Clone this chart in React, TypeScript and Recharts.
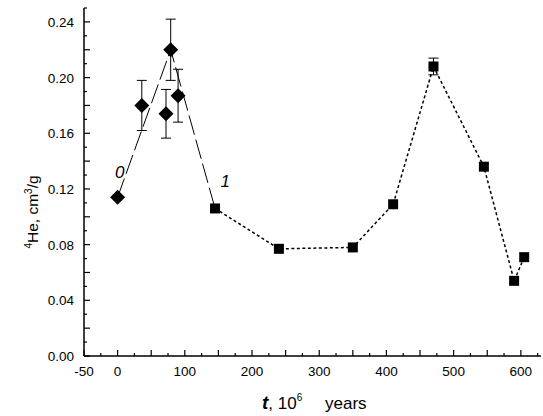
import React from "react";
import { ComposedChart, Scatter, XAxis, YAxis, ErrorBar, ReferenceDot } from "recharts";

// diamonds: series "0" with error bars
const diamondT = [0, 36, 72, 79, 90];
const diamondHe = [0.114, 0.18, 0.174, 0.22, 0.187];
const diamondErr = [null, 0.018, 0.0175, 0.022, 0.019];

// squares: series "1"
const squareT = [145, 240, 350, 410, 470, 545, 590, 605];
const squareHe = [0.106, 0.077, 0.078, 0.109, 0.208, 0.136, 0.054, 0.071];
const squareErr = [null, null, null, null, 0.006, null, null, null];

// long-dashed guide line through 0 -> peak -> first square
const guideT = [0, 79, 145];
const guideHe = [0.114, 0.22, 0.106];

// curve labels
const noteText = ["0", "1"];
const noteT = [3, 160];
const noteHe = [0.1325, 0.1255];

const xTicks = Array.from({ length: 28 }, (_, i) => -50 + i * 25);
const yTicks = Array.from({ length: 26 }, (_, i) => Math.round(i) / 100);

const FONT = "'Liberation Sans', Arial, sans-serif";

const diamonds = diamondT.map((t, i) => ({ t, he: diamondHe[i], err: diamondErr[i] }));
const squares = squareT.map((t, i) => ({ t, he: squareHe[i], err: squareErr[i] }));
const guide = guideT.map((t, i) => ({ t, he: guideHe[i] }));

const Diamond = (p: any) => {
  const { cx, cy } = p;
  const r = 7.5;
  return <polygon points={`${cx},${cy - r} ${cx + r},${cy} ${cx},${cy + r} ${cx - r},${cy}`} fill="#000" />;
};

const Square = (p: any) => {
  const { cx, cy } = p;
  return <rect x={cx - 5} y={cy - 5} width={10} height={10} fill="#000" />;
};

const NoShape = () => <g />;

const XTick = (p: any) => {
  const { x, y, payload } = p;
  const v = payload.value;
  const major = v % 50 === 0;
  const labelled = v === -50 || v % 100 === 0;
  return (
    <g>
      <line x1={x} x2={x} y1={y} y2={y - (major ? 6 : 3)} stroke="#000" strokeWidth={1.2} />
      {labelled && (
        <text x={x} y={y + 20} textAnchor="middle" fontSize={13.5} fontFamily={FONT} fill="#000">
          {v}
        </text>
      )}
    </g>
  );
};

const YTick = (p: any) => {
  const { x, y, payload } = p;
  const k = Math.round(payload.value * 100);
  const major = k % 2 === 0;
  const labelled = k % 4 === 0;
  return (
    <g>
      <line x1={x} x2={x + (major ? 6 : 3)} y1={y} y2={y} stroke="#000" strokeWidth={1.2} />
      {labelled && (
        <text x={x - 10} y={y + 5} textAnchor="end" fontSize={13.5} fontFamily={FONT} fill="#000">
          {(k / 100).toFixed(2)}
        </text>
      )}
    </g>
  );
};

const YTitle = () => (
  <text transform="translate(38,212) rotate(-90)" textAnchor="middle" fontSize={15.5} fontFamily={FONT} fill="#000">
    <tspan fontSize={10} dy={-6}>4</tspan>
    <tspan dy={6}>He, cm</tspan>
    <tspan fontSize={10} dy={-6}>3</tspan>
    <tspan dy={6}>/g</tspan>
  </text>
);

const XTitle = () => (
  <text x={262} y={409} fontSize={17} fontFamily={FONT} fill="#000">
    <tspan fontStyle="italic" fontWeight="bold" fontSize={19}>t</tspan>
    <tspan>, 10</tspan>
    <tspan fontSize={10} dy={-8}>6</tspan>
    <tspan x={325} dy={8}>years</tspan>
  </text>
);

export default function App() {
  return (
    <div style={{ position: "absolute", left: 0, top: 0, background: "#fff" }}>
      <ComposedChart width={543} height={416} margin={{ top: 8, right: 2, bottom: 0, left: 0 }}>
        <XAxis
          type="number"
          dataKey="t"
          domain={[-50, 630]}
          allowDataOverflow
          ticks={xTicks}
          interval={0}
          tickSize={0}
          tickMargin={0}
          tickLine={false}
          tick={XTick}
          height={60}
          axisLine={{ stroke: "#000", strokeWidth: 1.5 }}
          label={{ content: XTitle }}
        />
        <YAxis
          type="number"
          dataKey="he"
          domain={[0, 0.25]}
          allowDataOverflow
          ticks={yTicks}
          interval={0}
          tickSize={0}
          tickMargin={0}
          tickLine={false}
          tick={YTick}
          width={84}
          axisLine={{ stroke: "#000", strokeWidth: 1.5 }}
          label={{ content: YTitle }}
        />
        <Scatter
          data={guide}
          shape={NoShape}
          line={{ stroke: "#000", strokeWidth: 1, strokeDasharray: "20 5" }}
          lineJointType="linear"
          isAnimationActive={false}
        />
        <Scatter
          data={squares}
          shape={Square}
          line={{ stroke: "#000", strokeWidth: 1.5, strokeDasharray: "3 2.5" }}
          lineJointType="linear"
          isAnimationActive={false}
        >
          <ErrorBar dataKey="err" direction="y" width={5} stroke="#000" strokeWidth={1} isAnimationActive={false} />
        </Scatter>
        <Scatter data={diamonds} shape={Diamond} isAnimationActive={false}>
          <ErrorBar dataKey="err" direction="y" width={5} stroke="#000" strokeWidth={1} isAnimationActive={false} />
        </Scatter>
        {noteText.map((s, i) => (
          <ReferenceDot
            key={s}
            x={noteT[i]}
            y={noteHe[i]}
            r={0}
            stroke="none"
            fill="none"
            label={{ value: s, position: "center", fontSize: 17, fontStyle: "italic", fontFamily: FONT, fill: "#000" }}
          />
        ))}
      </ComposedChart>
    </div>
  );
}
